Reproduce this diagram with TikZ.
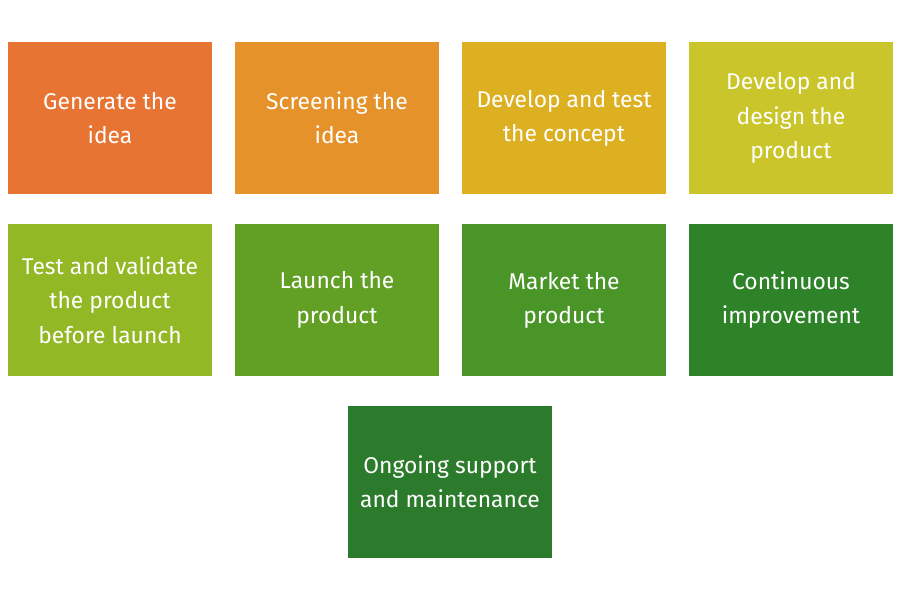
\documentclass[tikz,border=0pt]{standalone}
\usepackage{fontspec}
\setsansfont{Fira Sans}
\usetikzlibrary{positioning}
\definecolor{step1}{HTML}{E87434}
\definecolor{step2}{HTML}{E5922A}
\definecolor{step3}{HTML}{DDB022}
\definecolor{step4}{HTML}{C9C52A}
\definecolor{step5}{HTML}{93B825}
\definecolor{step6}{HTML}{62A025}
\definecolor{step7}{HTML}{4A9528}
\definecolor{step8}{HTML}{2E8228}
\definecolor{step9}{HTML}{2C7A2C}

\begin{document}
\begin{tikzpicture}[x=0.02cm, y=-0.02cm,
    box/.style={rectangle, minimum width=4.08cm, minimum height=3.06cm,
                align=center, text=white, inner sep=0pt,
                font=\sffamily\fontsize{13}{19.5}\selectfont}]
    \useasboundingbox (0,0) rectangle (900,600);

    % First row
    \node[box, fill=step1] (gen) at (110, 118) {Generate the\\idea};
    \node[box, fill=step2] (screen) at (337, 118) {Screening the\\idea};
    \node[box, fill=step3] (concept) at (564, 118) {Develop and test\\the concept};
    \node[box, fill=step4] (design) at (791, 118) {Develop and\\design the\\product};

    % Second row
    \node[box, fill=step5] (test) at (110, 300) {Test and validate\\the product\\before launch};
    \node[box, fill=step6] (launch) at (337, 300) {Launch the\\product};
    \node[box, fill=step7] (market) at (564, 300) {Market the\\product};
    \node[box, fill=step8] (improve) at (791, 300) {Continuous\\improvement};

    % Last row
    \node[box, fill=step9] (support) at (450, 482) {Ongoing support\\and maintenance};
\end{tikzpicture}
\end{document}
